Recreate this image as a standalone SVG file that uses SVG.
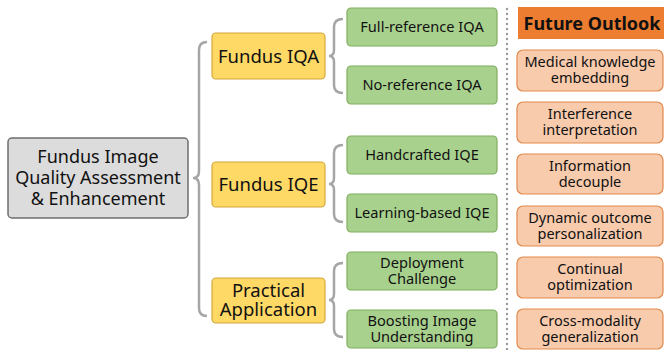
<svg xmlns="http://www.w3.org/2000/svg" width="664" height="350" viewBox="0 0 664 350">
<style>
text{font-family:"Noto Sans","Open Sans","Liberation Sans",sans-serif;fill:#111;text-anchor:middle}
.root rect{fill:#dcdcdc;stroke:#6e6e6e;stroke-width:1.5}
.root text{font-size:18px}
.l1 rect{fill:#ffd966;stroke:#d4a73a;stroke-width:1.2}
.l1 text{font-size:18.5px}
.l2 rect{fill:#a9d18e;stroke:#7fae5f;stroke-width:1.2}
.l2 text{font-size:14.6px}
.fo rect{fill:#f8cbad;stroke:#e2894b;stroke-width:1.2}
.fo text{font-size:14.5px}
.brace{fill:none;stroke:#a6a6a6;stroke-width:2.5}
</style>
<g id="connectors">
<path class="brace" d="M207,42 Q199,42 199,50 L199,171 Q199,178 193,178 Q199,178 199,185 L199,308 Q199,316 207,316"/>
<path class="brace" d="M343,19 Q334,19 334,27 L334,50 Q334,56 329,56 Q334,56 334,62 L334,85 Q334,93 343,93"/>
<path class="brace" d="M343,145 Q334,145 334,153 L334,178 Q334,184 329,184 Q334,184 334,190 L334,214 Q334,222 343,222"/>
<path class="brace" d="M343,263 Q334,263 334,271 L334,294 Q334,300 329,300 Q334,300 334,306 L334,329 Q334,337 343,337"/>
<line x1="507" y1="9" x2="507" y2="350" stroke="#9a9a9a" stroke-width="2.4" stroke-linecap="round" stroke-dasharray="0 5"/>
</g>
<g id="root" class="root"><rect x="8" y="138" width="180" height="80" rx="4"/>
<text x="98" y="163">Fundus Image<tspan x="98" dy="21">Quality Assessment</tspan><tspan x="98" dy="21">&amp; Enhancement</tspan></text></g>
<g id="iqa" class="l1"><rect x="212" y="33" width="113" height="46" rx="4"/><text x="268.5" y="62.5">Fundus IQA</text></g>
<g id="iqe" class="l1"><rect x="212" y="162" width="113" height="45" rx="4"/><text x="268.5" y="191">Fundus IQE</text></g>
<g id="practical" class="l1"><rect x="212" y="278" width="113" height="45" rx="4"/><text x="268.5" y="297">Practical<tspan x="268.5" dy="19">Application</tspan></text></g>
<g id="fr" class="l2"><rect x="347" y="8" width="150" height="38" rx="4"/><text x="422" y="32">Full-reference IQA</text></g>
<g id="nr" class="l2"><rect x="347" y="66" width="150" height="38" rx="4"/><text x="422" y="90">No-reference IQA</text></g>
<g id="hc" class="l2"><rect x="347" y="136" width="150" height="38" rx="4"/><text x="422" y="160">Handcrafted IQE</text></g>
<g id="lb" class="l2"><rect x="347" y="194" width="150" height="38" rx="4"/><text x="422" y="218">Learning-based IQE</text></g>
<g id="dc" class="l2"><rect x="347" y="252" width="150" height="38" rx="4"/><text x="422" y="268">Deployment<tspan x="422" dy="16">Challenge</tspan></text></g>
<g id="bi" class="l2"><rect x="347" y="310" width="150" height="38" rx="4"/><text x="422" y="326">Boosting Image<tspan x="422" dy="16">Understanding</tspan></text></g>
<g id="future"><rect x="518" y="7" width="146" height="32" fill="#ed7d31"/><text x="592" y="29.5" font-size="18" font-weight="bold">Future Outlook</text></g>
<g id="f1" class="fo"><rect x="517" y="50" width="146" height="41" rx="6"/><text x="590" y="67">Medical knowledge<tspan x="590" dy="16">embedding</tspan></text></g>
<g id="f2" class="fo"><rect x="517" y="102" width="146" height="41" rx="6"/><text x="590" y="119">Interference<tspan x="590" dy="16">interpretation</tspan></text></g>
<g id="f3" class="fo"><rect x="517" y="154" width="146" height="40" rx="6"/><text x="590" y="171">Information<tspan x="590" dy="16">decouple</tspan></text></g>
<g id="f4" class="fo"><rect x="517" y="206" width="146" height="40" rx="6"/><text x="590" y="223">Dynamic outcome<tspan x="590" dy="16">personalization</tspan></text></g>
<g id="f5" class="fo"><rect x="517" y="257" width="146" height="41" rx="6"/><text x="590" y="274">Continual<tspan x="590" dy="16">optimization</tspan></text></g>
<g id="f6" class="fo"><rect x="517" y="309" width="146" height="40" rx="6"/><text x="590" y="326">Cross-modality<tspan x="590" dy="16">generalization</tspan></text></g>
</svg>
